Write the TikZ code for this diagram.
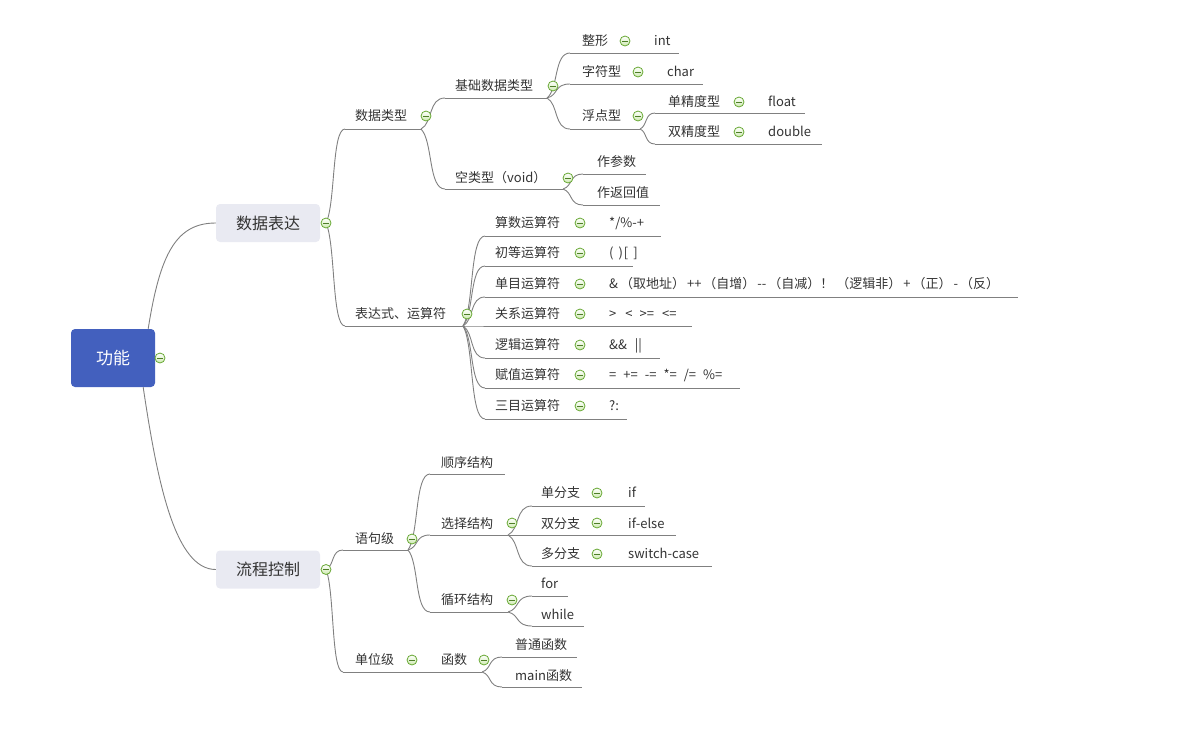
\documentclass[tikz,border=0pt]{standalone}
\usepackage{fontspec}
\setmainfont{Noto Sans CJK SC}
\usetikzlibrary{calc}
\definecolor{txt}{RGB}{51,51,51}
\definecolor{ln}{RGB}{128,128,128}
\definecolor{rootc}{RGB}{67,96,190}
\definecolor{boxc}{RGB}{233,234,242}
\definecolor{togd}{RGB}{104,168,52}
\definecolor{togl}{RGB}{205,234,175}
\newcommand{\brc}[2]{\draw[br] let \p1=(#1), \p2=(#2) in (\p1) .. controls ({\x1+0.5*(\x2-\x1)},{\y1+0.2*(\y2-\y1)}) and ({\x1+0.3*(\x2-\x1)},\y2) .. (\p2);}
\newcommand{\tg}[2]{\node[tog] (#1) at (#2) {};}
\newcommand{\gap}[1]{\hspace{#1pt}}
\begin{document}
\begin{tikzpicture}[x=1pt,y=-1pt,
  lbl/.style={anchor=west,inner sep=0pt,text=txt,font=\fontsize{13}{15}\selectfont,text height=11pt,text depth=2pt},
  br/.style={draw=ln,line width=0.9pt},
  ul/.style={draw=ln,line width=0.9pt},
  tog/.style={circle,draw=togd,line width=0.8pt,top color=white,bottom color=togl,minimum size=10pt,inner sep=0pt,
     path picture={\draw[togd!75!black,line width=1pt] ([xshift=-2.8pt]path picture bounding box.center) -- ([xshift=2.8pt]path picture bounding box.center);}},
  topic/.style={rounded corners=4pt,inner sep=0pt,text=txt,font=\fontsize{16}{18}\selectfont,fill=boxc,minimum width=104pt,minimum height=38pt},
]
\useasboundingbox (0,0) rectangle (1192,732);

% ---------- main topics ----------
\node[fill=rootc,rounded corners=4pt,inner sep=0pt,minimum width=84pt,minimum height=58pt,text=white,font=\fontsize{17}{20}\selectfont] (root) at (113,358) {功能};
\node[topic] (A) at (268,223) {数据表达};
\node[topic] (B) at (268,569.5) {流程控制};
\coordinate (jA) at (326,223);
\coordinate (jB) at (326,569.5);

\draw[br] ([xshift=-7pt]root.north east) .. controls (160,254) and (176,223) .. (A.west);
\draw[br] ([xshift=-12pt]root.south east) .. controls (158,487) and (176,569.5) .. (B.west);

% ---------- coordinates of underlines ----------
\coordinate (dtS) at (345,129); \coordinate (dtE) at (421,129);
\coordinate (exS) at (345,326); \coordinate (exE) at (463,326);
\coordinate (jcS) at (445,98);  \coordinate (jcE) at (547,98);
\coordinate (kS) at (445,189);  \coordinate (kE) at (563,189);
\coordinate (zxS) at (570,53);  \coordinate (zxE) at (679,53);
\coordinate (zfS) at (570,84);  \coordinate (zfE) at (703,84);
\coordinate (fdS) at (570,129); \coordinate (fdE) at (640,129);
\coordinate (djS) at (655,113); \coordinate (djE) at (805,113);
\coordinate (sjS) at (655,144); \coordinate (sjE) at (822,144);
\coordinate (cpS) at (583,174); \coordinate (cpE) at (646,174);
\coordinate (cfS) at (583,205); \coordinate (cfE) at (660,205);
\coordinate (o1S) at (485,236); \coordinate (o1E) at (661,236);
\coordinate (o2S) at (485,266); \coordinate (o2E) at (633,266);
\coordinate (o3S) at (485,297); \coordinate (o3E) at (1018,297);
\coordinate (o4S) at (485,326); \coordinate (o4E) at (692,326);
\coordinate (o5S) at (485,358); \coordinate (o5E) at (660,358);
\coordinate (o6S) at (485,388); \coordinate (o6E) at (740,388);
\coordinate (o7S) at (485,419); \coordinate (o7E) at (627,419);
\coordinate (yjS) at (343,550); \coordinate (yjE) at (408,550);
\coordinate (dwS) at (343,672); \coordinate (dwE) at (482,672);
\coordinate (sxS) at (430,474); \coordinate (sxE) at (505,474);
\coordinate (xzS) at (430,535); \coordinate (xzE) at (508,535);
\coordinate (xhS) at (430,612); \coordinate (xhE) at (508,612);
\coordinate (dfS) at (532,506); \coordinate (dfE) at (645,506);
\coordinate (sfS) at (532,535); \coordinate (sfE) at (676,535);
\coordinate (mfS) at (532,566); \coordinate (mfE) at (712,566);
\coordinate (foS) at (532,596); \coordinate (foE) at (568,596);
\coordinate (whS) at (532,626); \coordinate (whE) at (584,626);
\coordinate (ptS) at (502,657); \coordinate (ptE) at (577,657);
\coordinate (mnS) at (502,687); \coordinate (mnE) at (582,687);

% ---------- underlines ----------
\foreach \u in {dt,ex,jc,k,zx,zf,fd,dj,sj,cp,cf,o1,o2,o3,o4,o5,o6,o7,yj,dw,sx,xz,xh,df,sf,mf,fo,wh,pt,mn}
  {\draw[ul] (\u S) -- (\u E);}

% ---------- branch curves ----------
\brc{jA}{dtS} \brc{jA}{exS}
\brc{dtE}{jcS} \brc{dtE}{kS}
\brc{jcE}{zxS} \brc{jcE}{zfS} \brc{jcE}{fdS}
\brc{fdE}{djS} \brc{fdE}{sjS}
\brc{kE}{cpS} \brc{kE}{cfS}
\foreach \i in {1,...,7} {\brc{exE}{o\i S}}
\brc{jB}{yjS} \brc{jB}{dwS}
\brc{yjE}{sxS} \brc{yjE}{xzS} \brc{yjE}{xhS}
\brc{xzE}{dfS} \brc{xzE}{sfS} \brc{xzE}{mfS}
\brc{xhE}{foS} \brc{xhE}{whS}
\brc{dwE}{ptS} \brc{dwE}{mnS}

% ---------- labels ----------
\node[lbl] (dt) at (355,116) {数据类型};
\node[lbl] (ex) at (355,314) {表达式、运算符};
\node[lbl] (jc) at (455,86) {基础数据类型};
\node[lbl] (k) at (455,178) {空类型（void）};
\node[lbl] (zx) at (582,41) {整形};
\node[lbl] (zxv) at (654,41) {int};
\node[lbl] (zf) at (582,72) {字符型};
\node[lbl] (zfv) at (667,72) {char};
\node[lbl] (fd) at (582,116) {浮点型};
\node[lbl] (dj) at (668,102) {单精度型};
\node[lbl] (djv) at (768,102) {float};
\node[lbl] (sj) at (668,132) {双精度型};
\node[lbl] (sjv) at (768,132) {double};
\node[lbl] (cp) at (597,162) {作参数};
\node[lbl] (cf) at (597,193) {作返回值};

\node[lbl] (o1) at (495,223) {算数运算符};
\node[lbl] (o2) at (495,253) {初等运算符};
\node[lbl] (o3) at (495,284) {单目运算符};
\node[lbl] (o4) at (495,314) {关系运算符};
\node[lbl] (o5) at (495,345) {逻辑运算符};
\node[lbl] (o6) at (495,375) {赋值运算符};
\node[lbl] (o7) at (495,406) {三目运算符};
\node[lbl] (o1v) at (609,223) {*/\%-+};
\node[lbl] (o2v) at (609,253) {(\gap{5})\gap{1}[\gap{5}]};
\node[lbl] (o3v) at (609,284) {\&\gap{2}（取地址）\gap{2}++\gap{2}（自增）\gap{2}-{}-\gap{2}（自减）！\gap{3}（逻辑非）\gap{2}+\gap{2}（正）\gap{2}-\gap{2}（反）};
\node[lbl] (o4v) at (609,314) {>\gap{9}<\gap{7}>=\gap{8}<=};
\node[lbl] (o5v) at (609,345) {\&\&\gap{8}||};
\node[lbl] (o6v) at (609,375) {=\gap{7}+=\gap{7}-=\gap{7}*=\gap{7}/=\gap{7}\%=};
\node[lbl] (o7v) at (609,406) {?:};

\node[lbl] (yj) at (355,539) {语句级};
\node[lbl] (dw) at (355,660) {单位级};
\node[lbl] (hs) at (441,660) {函数};
\node[lbl] (sx) at (441,463) {顺序结构};
\node[lbl] (xz) at (441,523.5) {选择结构};
\node[lbl] (xh) at (441,600) {循环结构};
\node[lbl] (df) at (541,493) {单分支};
\node[lbl] (dfv) at (628,493) {if};
\node[lbl] (sf) at (541,523.5) {双分支};
\node[lbl] (sfv) at (628,523.5) {if-else};
\node[lbl] (mf) at (541,554) {多分支};
\node[lbl] (mfv) at (628,554) {switch-case};
\node[lbl] (fo) at (541,584) {for};
\node[lbl] (wh) at (541,615) {while};
\node[lbl] (pt) at (515,645) {普通函数};
\node[lbl] (mn) at (515,676) {main函数};

% ---------- toggles ----------
\tg{tR}{160,358}
\tg{tA}{jA} \tg{tB}{jB}
\tg{tdt}{426,116} \tg{tex}{467,314}
\tg{tjc}{553,86} \tg{tk}{568,178}
\tg{tzx}{625,41} \tg{tzf}{638,72} \tg{tfd}{638,116}
\tg{tdj}{739,102} \tg{tsj}{739,132}
\foreach \y [count=\i] in {223,253,284,314,345,375,406} {\tg{to\i}{580,\y}}
\tg{tyj}{412,539} \tg{tdw}{412,660} \tg{ths}{484,660}
\tg{txz}{512,523} \tg{txh}{512,600}
\tg{tdf}{597,493} \tg{tsf}{597,523} \tg{tmf}{597,554}
\end{tikzpicture}
\end{document}
